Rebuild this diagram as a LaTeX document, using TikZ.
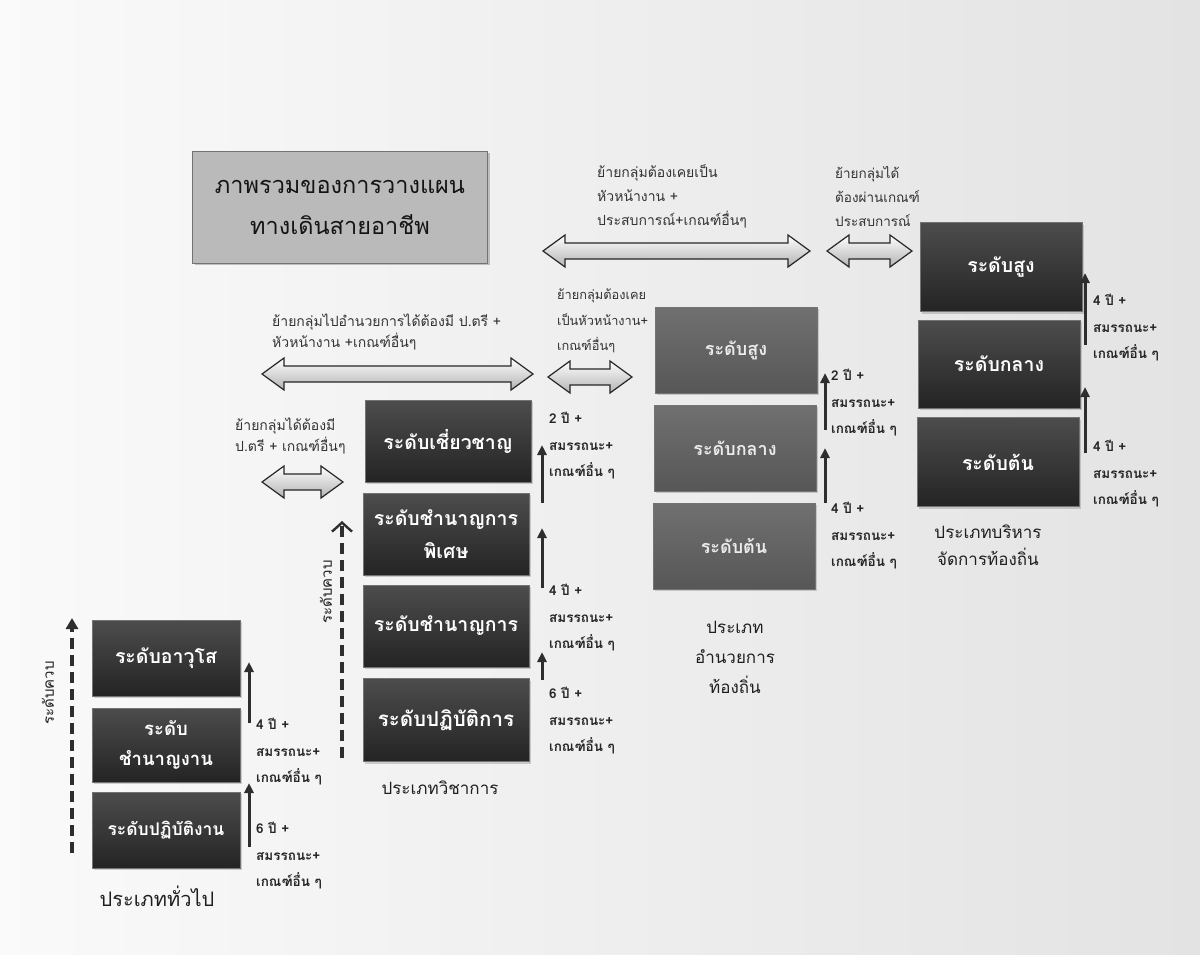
\documentclass[tikz,border=0pt]{standalone}
\usepackage{fontspec}
\setmainfont[Script=Thai]{Loma}
\usetikzlibrary{arrows.meta,shadows}
\definecolor{dk}{HTML}{2E2E2E}
\tikzset{
  dkbox/.style={rectangle, draw=black!55, line width=0.8pt, top color=black!70, bottom color=black!86,
    text=white, font=\bfseries\fontsize{19.5}{26}\selectfont, align=center, inner sep=2pt,
    drop shadow={opacity=0.35, shadow xshift=2pt, shadow yshift=-2pt}},
  mdbox/.style={dkbox, top color=black!56, bottom color=black!66, text=black!8, font=\bfseries\fontsize{18}{26}\selectfont},
  titlebox/.style={rectangle, draw=black!55, line width=0.8pt, fill=black!27, text=black!92,
    font=\fontsize{23.5}{41}\selectfont, align=center, drop shadow={opacity=0.45, shadow xshift=2pt, shadow yshift=-2pt}},
  steplbl/.style={anchor=west, align=left, inner sep=0pt, text=black!85, font=\bfseries\fontsize{13.5}{26.5}\selectfont},
  movelbl/.style={anchor=west, align=left, inner sep=0pt, text=black!80, font=\fontsize{14}{24}\selectfont},
  catlbl/.style={align=center, inner sep=0pt, text=black!88, font=\fontsize{17}{30}\selectfont},
  sidelbl/.style={rotate=90, inner sep=0pt, text=black!88, font=\fontsize{15}{18}\selectfont},
  steparr/.style={draw=dk, line width=3pt, -{Triangle[length=10pt,width=9pt]}},
  dblarrow/.style={draw=black!85, line width=1.2pt, top color=white, bottom color=black!30},
  dasharr/.style={draw=dk, line width=3.6pt, dash pattern=on 11pt off 6pt}
}
\newcommand\dbar[3]{% x1, x2, yc
  \draw[dblarrow] (#1,#3) -- ++(22,-16) -- ++(0,8) -- ({#2-22},{#3-8}) -- ++(0,-8) -- (#2,#3)
    -- ++(-22,16) -- ++(0,-8) -- ({#1+22},{#3+8}) -- ++(0,8) -- cycle;}
\begin{document}
\begin{tikzpicture}[x=1pt,y=-1pt]
\shade[left color=black!2, right color=black!11] (0,0) rectangle (1200,954);
\useasboundingbox (0,0) rectangle (1200,954);

% title
\node[titlebox, minimum width=295pt, minimum height=112pt] (title) at (340,207) {ภาพรวมของการวางแผน\\ทางเดินสายอาชีพ};

% column 1: general
\node[dkbox, minimum width=148pt, minimum height=76pt] (g3) at (166,658) {ระดับอาวุโส};
\node[dkbox, minimum width=148pt, minimum height=74pt, font=\bfseries\fontsize{18.5}{30}\selectfont] (g2) at (166,745) {ระดับ\\ชำนาญงาน};
\node[dkbox, minimum width=148pt, minimum height=76pt, font=\bfseries\fontsize{17.5}{26}\selectfont] (g1) at (166,830) {ระดับปฏิบัติงาน};
\node[catlbl, font=\fontsize{20}{30}\selectfont] (gcat) at (157,896) {ประเภททั่วไป};
\coordinate (gd1) at (72,853); \coordinate (gd2) at (72,618);
\draw[dasharr, -{Triangle[length=11pt,width=12pt]}] (gd1) -- (gd2);
\node[sidelbl] (gside) at (48,693) {ระดับควบ};
\coordinate (ga1) at (249,847); \coordinate (ga2) at (249,783);
\coordinate (ga3) at (249,723); \coordinate (ga4) at (249,662);
\draw[steparr] (ga1) -- (ga2);
\draw[steparr] (ga3) -- (ga4);
\node[steplbl] (gl2) at (256,752) {4 ปี +\\สมรรถนะ+\\เกณฑ์อื่น ๆ};
\node[steplbl] (gl1) at (256,856) {6 ปี +\\สมรรถนะ+\\เกณฑ์อื่น ๆ};

% column 2: academic
\node[dkbox, minimum width=166pt, minimum height=82pt] (a4) at (448,441) {ระดับเชี่ยวชาญ};
\node[dkbox, minimum width=166pt, minimum height=82pt, font=\bfseries\fontsize{19.5}{33}\selectfont] (a3) at (446,534) {ระดับชำนาญการ\\พิเศษ};
\node[dkbox, minimum width=166pt, minimum height=82pt] (a2) at (446,626) {ระดับชำนาญการ};
\node[dkbox, minimum width=166pt, minimum height=83pt, font=\bfseries\fontsize{20.5}{26}\selectfont] (a1) at (446,720) {ระดับปฏิบัติการ};
\node[catlbl] (acat) at (440,788) {ประเภทวิชาการ};
\coordinate (ad1) at (342,758); \coordinate (ad2) at (342,521);
\draw[dasharr, -{Straight Barb[length=9pt,width=20pt,line width=2.4pt]}] (ad1) -- (ad2);
\node[sidelbl] (aside) at (326,592) {ระดับควบ};
\coordinate (aa1) at (542,680); \coordinate (aa2) at (542,652);
\coordinate (aa3) at (542,588); \coordinate (aa4) at (542,528);
\coordinate (aa5) at (542,503); \coordinate (aa6) at (542,445);
\draw[steparr] (aa1) -- (aa2);
\draw[steparr] (aa3) -- (aa4);
\draw[steparr] (aa5) -- (aa6);
\node[steplbl] (al3) at (549,446) {2 ปี +\\สมรรถนะ+\\เกณฑ์อื่น ๆ};
\node[steplbl] (al2) at (549,618) {4 ปี +\\สมรรถนะ+\\เกณฑ์อื่น ๆ};
\node[steplbl] (al1) at (549,721) {6 ปี +\\สมรรถนะ+\\เกณฑ์อื่น ๆ};

% column 3: local director
\node[mdbox, minimum width=162pt, minimum height=86pt] (d3) at (736,350) {ระดับสูง};
\node[mdbox, minimum width=162pt, minimum height=86pt] (d2) at (735,448) {ระดับกลาง};
\node[mdbox, minimum width=162pt, minimum height=86pt] (d1) at (734,546) {ระดับต้น};
\node[catlbl] (dcat) at (735,657) {ประเภท\\อำนวยการ\\ท้องถิ่น};
\coordinate (da1) at (825,503); \coordinate (da2) at (825,448);
\coordinate (da3) at (825,430); \coordinate (da4) at (825,373);
\draw[steparr] (da1) -- (da2);
\draw[steparr] (da3) -- (da4);
\node[steplbl] (dl2) at (831,403) {2 ปี +\\สมรรถนะ+\\เกณฑ์อื่น ๆ};
\node[steplbl] (dl1) at (831,536) {4 ปี +\\สมรรถนะ+\\เกณฑ์อื่น ๆ};

% column 4: local management
\node[dkbox, minimum width=162pt, minimum height=89pt] (m3) at (1001,267) {ระดับสูง};
\node[dkbox, minimum width=162pt, minimum height=88pt] (m2) at (999,364) {ระดับกลาง};
\node[dkbox, minimum width=162pt, minimum height=89pt] (m1) at (998,462) {ระดับต้น};
\node[catlbl, font=\fontsize{17}{27}\selectfont] (mcat) at (988,545) {ประเภทบริหาร\\จัดการท้องถิ่น};
\coordinate (ma1) at (1085,453); \coordinate (ma2) at (1085,387);
\coordinate (ma3) at (1085,345); \coordinate (ma4) at (1085,273);
\draw[steparr] (ma1) -- (ma2);
\draw[steparr] (ma3) -- (ma4);
\node[steplbl] (ml2) at (1093,328) {4 ปี +\\สมรรถนะ+\\เกณฑ์อื่น ๆ};
\node[steplbl] (ml1) at (1093,474) {4 ปี +\\สมรรถนะ+\\เกณฑ์อื่น ๆ};

% transfer arrows
\dbar{543}{810}{251}
\node[movelbl] (t1) at (597,196) {ย้ายกลุ่มต้องเคยเป็น\\หัวหน้างาน +\\ประสบการณ์+เกณฑ์อื่นๆ};
\dbar{827}{912}{251}
\node[movelbl, font=\fontsize{13.5}{24}\selectfont] (t2) at (835,196) {ย้ายกลุ่มได้\\ต้องผ่านเกณฑ์\\ประสบการณ์};
\dbar{262}{533}{374}
\node[movelbl, font=\fontsize{14}{21}\selectfont] (t3) at (272,332) {ย้ายกลุ่มไปอำนวยการได้ต้องมี ป.ตรี +\\หัวหน้างาน +เกณฑ์อื่นๆ};
\dbar{548}{632}{377}
\node[movelbl, font=\fontsize{12.8}{25.5}\selectfont] (t4) at (557,321) {ย้ายกลุ่มต้องเคย\\เป็นหัวหน้างาน+\\เกณฑ์อื่นๆ};
\dbar{262}{343}{482}
\node[movelbl, font=\fontsize{14}{21}\selectfont] (t5) at (235,436) {ย้ายกลุ่มได้ต้องมี\\ป.ตรี + เกณฑ์อื่นๆ};
\end{tikzpicture}
\end{document}
